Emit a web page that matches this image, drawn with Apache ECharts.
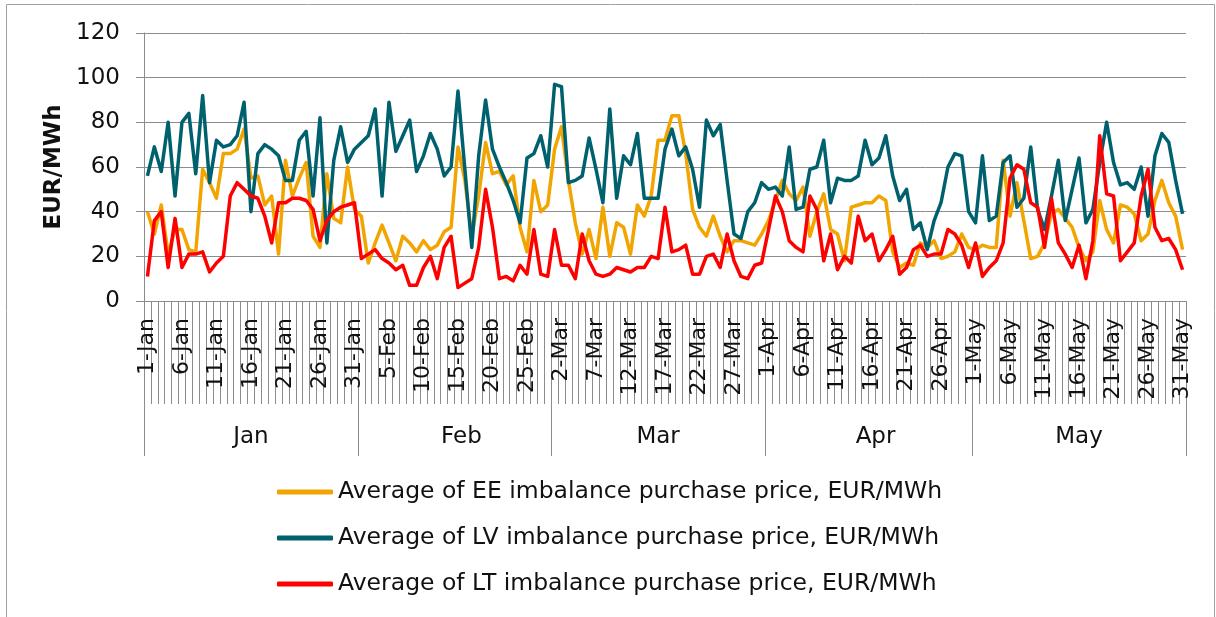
<!DOCTYPE html>
<html>
<head>
<meta charset="utf-8">
<script src="https://cdn.jsdelivr.net/npm/echarts@6/dist/echarts.min.js"></script>
<style>
  html, body { margin: 0; padding: 0; background: #fff; }
  #chart { width: 1216px; height: 617px; }
</style>
</head>
<body>
<div id="chart"></div>
<script>
// month groups and day counts (2015, Jan-May)
var monthNames = ['Jan', 'Feb', 'Mar', 'Apr', 'May'];
var monthDays = [31, 28, 31, 30, 31];

// daily averages, EUR/MWh
var eeValues = [
  40, 30, 43, 21, 32, 32, 23, 22, 59, 53, 46, 66, 66, 68, 77, 55, 56, 43, 47, 21, 63, 47, 55, 62, 29, 24, 57, 37, 35, 60, 41,
  38, 17, 26, 34, 26, 18, 29, 26, 22, 27, 23, 25, 31, 33, 69, 54, 29, 47, 71, 57, 58, 52, 56, 33, 22, 54, 40, 43,
  68, 78, 54, 35, 21, 32, 19, 42, 20, 35, 33, 21, 43, 38, 47, 72, 72, 83, 83, 66, 41, 33, 29, 38, 29, 22, 27, 27, 26, 25, 30,
  36, 45, 54, 48, 45, 51, 29, 40, 48, 32, 30, 18, 42, 43, 44, 44, 47, 45, 22, 15, 17, 16, 26, 24, 27, 19, 20, 22, 30, 24,
  23, 25, 24, 24, 63, 38, 53, 36, 19, 20, 26, 39, 41, 37, 33, 24, 18, 22, 45, 32, 26, 43, 42, 39, 27, 30, 45, 54, 44, 38, 23
];
var lvValues = [
  56, 69, 58, 80, 47, 80, 84, 57, 92, 53, 72, 69, 70, 74, 89, 40, 66, 70, 68, 65, 54, 54, 72, 76, 47, 82, 26, 63, 78, 62, 68,
  71, 74, 86, 47, 89, 67, 74, 81, 58, 65, 75, 68, 56, 60, 94, 59, 24, 65, 90, 68, 60, 53, 45, 35, 64, 66, 74, 60,
  97, 96, 53, 54, 56, 73, 59, 44, 86, 46, 65, 61, 75, 46, 46, 46, 68, 77, 65, 69, 59, 42, 81, 74, 79, 54, 30, 28, 40, 44, 53,
  50, 51, 47, 69, 41, 42, 59, 60, 72, 44, 55, 54, 54, 56, 72, 61, 64, 74, 56, 45, 50, 32, 35, 23, 36, 44, 60, 66, 65, 40,
  35, 65, 36, 38, 62, 65, 42, 46, 69, 41, 32, 47, 63, 36, 50, 64, 35, 41, 62, 80, 62, 52, 53, 50, 60, 38, 65, 75, 71, 54, 39
];
var ltValues = [
  11, 36, 40, 15, 37, 15, 21, 21, 22, 13, 17, 20, 47, 53, 50, 47, 46, 38, 26, 44, 44, 46, 46, 45, 41, 27, 36, 40, 42, 43, 44,
  19, 21, 23, 19, 17, 14, 16, 7, 7, 15, 20, 10, 24, 29, 6, 8, 10, 24, 50, 33, 10, 11, 9, 16, 12, 32, 12, 11,
  32, 16, 16, 10, 30, 18, 12, 11, 12, 15, 14, 13, 15, 15, 20, 19, 42, 22, 23, 25, 12, 12, 20, 21, 15, 30, 18, 11, 10, 16, 17,
  32, 47, 40, 27, 24, 22, 47, 41, 18, 30, 14, 20, 17, 38, 27, 30, 18, 23, 29, 12, 15, 23, 25, 20, 21, 21, 32, 30, 25, 15,
  26, 11, 15, 18, 26, 55, 61, 59, 44, 42, 24, 46, 26, 21, 15, 25, 10, 27, 74, 48, 47, 18, 22, 26, 47, 59, 33, 27, 28, 23, 14
];

var seriesNames = [
  'Average of EE imbalance purchase price, EUR/MWh',
  'Average of LV imbalance purchase price, EUR/MWh',
  'Average of LT imbalance purchase price, EUR/MWh'
];
var yTicks = [0, 20, 40, 60, 80, 100, 120];

// build day categories, month boundaries and month centres
var days = [];
var monthStart = [];
var monthCentre = {};
monthNames.forEach(function (m, k) {
  monthStart.push(days.length);
  monthCentre[days.length + Math.floor(monthDays[k] / 2)] = k;
  for (var d = 1; d <= monthDays[k]; d++) {
    days.push(d + '-' + m);
  }
});

var font = 'DejaVu Sans';
var grey = '#8c8c8c';

var chart = echarts.init(document.getElementById('chart'));

var option = {
  animation: false,
  color: ['#F2A500', '#00616E', '#FF0000'],
  textStyle: { fontFamily: font },
  graphic: [{
    type: 'rect',
    shape: { x: 6.5, y: 4.5, width: 1208, height: 700 },
    style: { fill: 'none', stroke: '#a0a0a0', lineWidth: 1 },
    silent: true
  }],
  grid: {
    left: 144,
    right: 30,
    top: 33,
    bottom: 316
  },
  legend: {
    orient: 'vertical',
    left: 277,
    top: 480,
    padding: 0,
    itemWidth: 56,
    itemHeight: 5,
    itemGap: 22,
    icon: 'roundRect',
    data: seriesNames,
    textStyle: { fontFamily: font, fontSize: 23.5, color: '#111' }
  },
  xAxis: [
    {
      type: 'category',
      data: days,
      boundaryGap: true,
      axisLine: { show: true, lineStyle: { color: grey, width: 1 } },
      axisTick: { show: true, interval: 0, length: 103, lineStyle: { color: grey, width: 1 } },
      axisLabel: {
        interval: 4,
        rotate: 90,
        margin: 17,
        fontFamily: font,
        fontSize: 22,
        color: '#111'
      }
    },
    {
      type: 'category',
      data: days,
      boundaryGap: true,
      position: 'bottom',
      offset: 103,
      axisLine: { show: false },
      axisTick: {
        show: true,
        length: 52,
        interval: function (i) { return monthStart.indexOf(i) >= 0; },
        lineStyle: { color: grey, width: 1 }
      },
      axisLabel: {
        margin: 22,
        fontFamily: font,
        fontSize: 23,
        color: '#111',
        interval: function (i) { return monthCentre[i] !== undefined; },
        formatter: function (v, i) {
          var k = monthCentre[i];
          // even-length months sit half a day to the right
          return monthDays[k] % 2 === 0 ? '{e|' + monthNames[k] + '}' : monthNames[k];
        },
        rich: { e: { fontFamily: font, fontSize: 23, color: '#111', padding: [0, 0, 0, 7] } }
      }
    }
  ],
  yAxis: {
    type: 'value',
    min: yTicks[0],
    max: yTicks[yTicks.length - 1],
    interval: yTicks[1] - yTicks[0],
    name: 'EUR/MWh',
    nameLocation: 'middle',
    nameGap: 76,
    nameTextStyle: { fontFamily: font, fontSize: 23, fontWeight: 'bold', color: '#111' },
    axisLine: { show: true, lineStyle: { color: grey } },
    axisTick: { show: true, length: 8, lineStyle: { color: grey } },
    axisLabel: { margin: 24, fontFamily: font, fontSize: 23, color: '#111' },
    splitLine: { lineStyle: { color: grey, width: 1 } }
  },
  series: [
    { name: seriesNames[0], type: 'line', data: eeValues },
    { name: seriesNames[1], type: 'line', data: lvValues },
    { name: seriesNames[2], type: 'line', data: ltValues }
  ].map(function (s) {
    s.showSymbol = false;
    s.lineStyle = { width: 3.5, join: 'round' };
    return s;
  })
};

chart.setOption(option);
</script>
</body>
</html>
